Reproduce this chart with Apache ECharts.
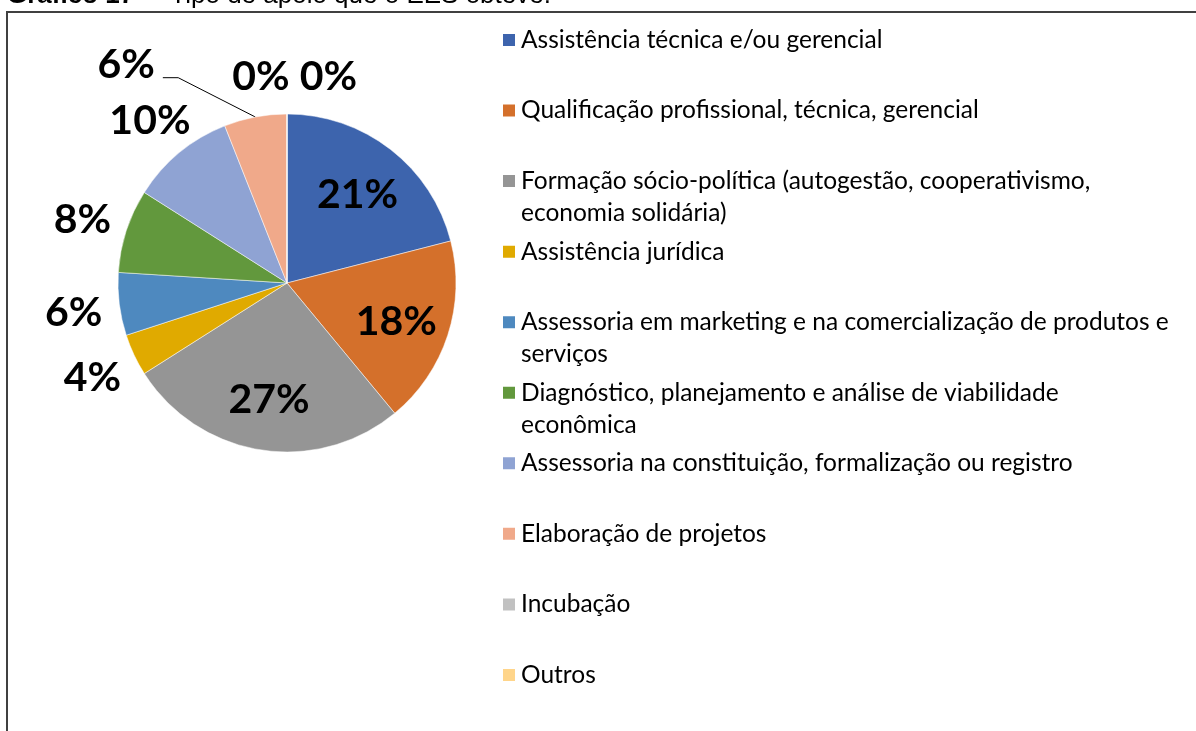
<!DOCTYPE html>
<html>
<head>
<meta charset="utf-8">
<script src="https://cdn.jsdelivr.net/npm/echarts@6.0.0/dist/echarts.min.js"></script>
<style>
  html, body { margin: 0; padding: 0; background: #fff; }
  #chart { width: 1196px; height: 731px; }
</style>
</head>
<body>
<div id="chart"></div>
<script>
// categories as shown in the legend (line breaks as in the original)
const categories = [
  'Assistência técnica e/ou gerencial',
  'Qualificação profissional, técnica, gerencial',
  'Formação sócio-política (autogestão, cooperativismo,\neconomia solidária)',
  'Assistência jurídica',
  'Assessoria em marketing e na comercialização de produtos e\nserviços',
  'Diagnóstico, planejamento e análise de viabilidade\neconômica',
  'Assessoria na constituição, formalização ou registro',
  'Elaboração de projetos',
  'Incubação',
  'Outros'
]
const percents = [21, 18, 27, 4, 6, 8, 10, 6, 0, 0]
const colors = ['#3d64ad', '#d4702b', '#959595', '#e0aa00', '#4e89bf',
                '#62983d', '#8fa3d3', '#f0a98a', '#c1c1c1', '#ffd58a']

// where each slice label sits
const innerLabels = [0, 1, 2]
const outerLabels = [3, 4, 5, 6]
const leaderLabels = [7]
const zeroLabels = [8, 9]

const center = [287, 283]
const pieR = 169
const labelFont = 'Lato'

let chart = echarts.init(document.getElementById('chart'))

function sliceData(showList, transparent) {
  return categories.map((name, i) => ({
    name: name,
    value: percents[i],
    itemStyle: { color: transparent ? 'rgba(0,0,0,0)' : colors[i] },
    label: { show: showList.indexOf(i) !== -1 },
    labelLine: { show: showList.indexOf(i) !== -1 }
  }))
}

let pctLabel = {
  formatter: '{d}%',
  fontFamily: labelFont,
  fontWeight: 'bold',
  fontSize: 41,
  color: '#000',
  offset: [0, 3]
}

// a transparent ring only used to place labels at a given distance
function labelRing(r0, r1, showList, labelExtra, extra) {
  return Object.assign({
    type: 'pie',
    center: center,
    radius: [r0, r1],
    startAngle: 90,
    silent: true,
    percentPrecision: 0,
    avoidLabelOverlap: false,
    emphasis: { disabled: true },
    label: Object.assign({ position: 'inside' }, pctLabel, labelExtra || {}),
    labelLine: { show: false },
    data: sliceData(showList, true)
  }, extra || {})
}

const legendTop = 40
const legendStep = 70.55

let option = {
  animation: false,
  backgroundColor: '#fff',
  title: {
    text: '{b|Gráfico 17 –}  Tipo de apoio que o EES obteve.',
    left: 7,
    top: -17,
    padding: 0,
    textStyle: {
      fontFamily: 'Liberation Sans',
      fontSize: 26,
      fontWeight: 'normal',
      color: '#000',
      rich: {
        b: { fontFamily: 'Liberation Sans', fontSize: 26, fontWeight: 'bold', color: '#000' }
      }
    }
  },
  graphic: [{
    type: 'rect',
    silent: true,
    shape: { x: 7, y: 12, width: 1400, height: 900 },
    style: { fill: 'none', stroke: '#404040', lineWidth: 2 }
  }],
  // one legend per entry so the rows keep Excel's even spacing
  legend: categories.map((name, i) => {
    let twoLines = name.indexOf('\n') !== -1
    return {
      data: [name],
      orient: 'vertical',
      left: 501,
      top: legendTop + i * legendStep - (twoLines ? 48 : 16),
      padding: 0,
      itemWidth: 14,
      itemHeight: 14,
      icon: 'rect',
      selectedMode: false,
      // an empty first line keeps the square level with the first text line
      formatter: n => (n.indexOf('\n') !== -1 ? '\n' + n : n),
      textStyle: {
        fontFamily: labelFont,
        fontSize: 24.5,
        color: '#000',
        lineHeight: 32
      }
    }
  }),
  series: [
    {
      type: 'pie',
      center: center,
      radius: pieR,
      startAngle: 90,
      percentPrecision: 0,
      avoidLabelOverlap: false,
      emphasis: { disabled: true },
      itemStyle: { borderColor: '#fff', borderWidth: 0.5 },
      label: Object.assign({ position: 'outside' }, pctLabel, { offset: [-3, -13] }),
      labelLine: {
        length: 40,
        length2: 85,
        minTurnAngle: 153,
        lineStyle: { color: '#000', width: 1 }
      },
      data: sliceData(leaderLabels, false)
    },
    labelRing(56, 168, innerLabels),
    labelRing(190, 234, outerLabels),
    labelRing(185, 225, zeroLabels, { formatter: '{d}% ', offset: [-21, 2] }, {
      labelLayout: { moveOverlap: 'shiftX' }
    })
  ]
}
chart.setOption(option)
</script>
</body>
</html>
